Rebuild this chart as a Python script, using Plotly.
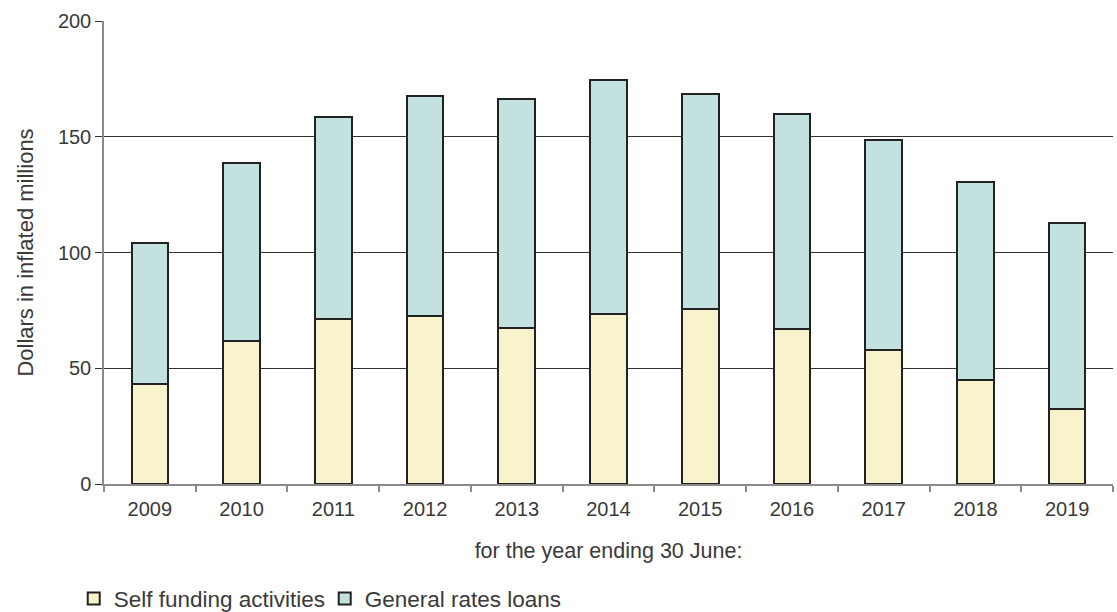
import plotly.graph_objects as go

years = ["2009", "2010", "2011", "2012", "2013", "2014", "2015", "2016", "2017", "2018", "2019"]
totals = [104.2, 138.8, 158.6, 167.7, 166.4, 174.4, 168.4, 159.9, 148.4, 130.3, 112.6]
self_funding = [43.2, 61.9, 71.4, 72.7, 67.4, 73.4, 75.4, 67.0, 57.8, 45.1, 32.2]
general_rates = [round(t - s, 1) for t, s in zip(totals, self_funding)]

FONT = "Liberation Sans"
TXT = "#3a3a3a"

fig = go.Figure()
fig.add_trace(go.Bar(
    x=years, y=self_funding, name="Self funding activities",
    marker=dict(color="#F8F2CD", line=dict(color="#222222", width=2)),
    width=0.4,
))
fig.add_trace(go.Bar(
    x=years, y=general_rates, name="General rates loans",
    marker=dict(color="#C3E2DF", line=dict(color="#222222", width=2)),
    width=0.4,
))

fig.update_layout(
    barmode="stack",
    width=1117, height=612,
    margin=dict(l=104, r=4, t=21, b=128, autoexpand=False),
    paper_bgcolor="white", plot_bgcolor="white",
    font=dict(family=FONT, size=20, color=TXT),
    showlegend=True,
    legend=dict(
        orientation="h", x=-0.03, xanchor="left", y=-0.248, yanchor="middle",
        font=dict(family=FONT, size=22.5, color=TXT),
        traceorder="normal", itemwidth=30, bgcolor="rgba(0,0,0,0)",
        entrywidth=206, entrywidthmode="pixels",
    ),
)
fig.update_xaxes(
    type="category", automargin=False,
    showline=True, linecolor="#8a8a8a", linewidth=1.5,
    ticks="outside", tickson="boundaries", ticklen=6, tickcolor="#8a8a8a", tickwidth=1.5,
    ticklabelstandoff=6,
    showgrid=False,
    tickfont=dict(family=FONT, size=20, color=TXT),
    title=dict(text="for the year ending 30 June:", font=dict(family=FONT, size=21.5, color=TXT), standoff=24),
)
fig.update_yaxes(
    range=[0, 200], dtick=50, tick0=0, automargin=False,
    showline=True, linecolor="#8a8a8a", linewidth=1.5,
    showgrid=True, gridcolor="#333333", gridwidth=1,
    zeroline=False,
    ticks="outside", ticklen=7, tickcolor="#333333", tickwidth=1,
    tickfont=dict(family=FONT, size=20, color=TXT),
    title=dict(text="Dollars in inflated millions", font=dict(family=FONT, size=22, color=TXT), standoff=18),
)

fig.write_html("out.html")
